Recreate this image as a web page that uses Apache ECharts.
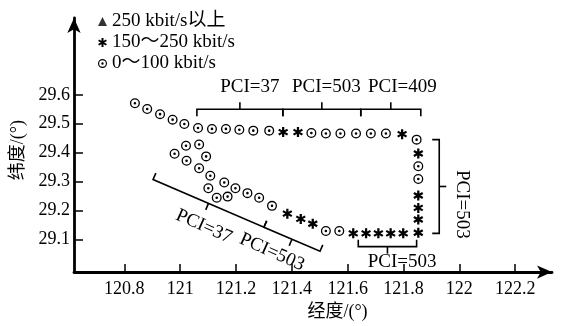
<!DOCTYPE html>
<html>
<head>
<meta charset="utf-8">
<script src="https://cdn.jsdelivr.net/npm/echarts@6/dist/echarts.min.js"></script>
<style>
  html, body { margin: 0; padding: 0; background: #fff; }
  #chart { width: 563px; height: 326px; }
</style>
</head>
<body>
<div id="chart"></div>
<script>
// 刻度
const xTicks = [120.8, 121, 121.2, 121.4, 121.6, 121.8, 122, 122.2];
const yTicks = [29.1, 29.2, 29.3, 29.4, 29.5, 29.6];

// 0~100 kbit/s 采样点 [经度, 纬度]
const circlePoints = [
  [120.838, 29.571], [120.882, 29.551], [120.928, 29.533], [120.973, 29.514],
  [121.015, 29.499], [121.064, 29.485], [121.114, 29.482], [121.164, 29.482],
  [121.212, 29.479], [121.262, 29.476], [121.319, 29.476],
  [121.470, 29.468], [121.522, 29.466], [121.574, 29.466], [121.630, 29.466],
  [121.683, 29.466], [121.737, 29.466], [121.847, 29.445],
  [121.853, 29.353], [121.853, 29.309],
  [121.570, 29.129], [121.522, 29.129],
  [120.980, 29.396], [121.021, 29.424], [121.068, 29.428], [121.023, 29.372],
  [121.093, 29.387], [121.068, 29.346], [121.108, 29.320], [121.158, 29.297],
  [121.101, 29.277], [121.198, 29.277], [121.241, 29.260], [121.131, 29.244],
  [121.170, 29.248], [121.283, 29.244], [121.329, 29.216]
];

// 150~250 kbit/s 采样点
const starPoints = [
  [121.369, 29.471], [121.422, 29.471], [121.795, 29.464],
  [121.853, 29.397], [121.853, 29.252], [121.853, 29.209], [121.853, 29.169], [121.853, 29.123],
  [121.799, 29.121], [121.754, 29.121], [121.710, 29.121], [121.666, 29.121], [121.620, 29.121],
  [121.475, 29.154], [121.432, 29.171], [121.384, 29.189]
];

// 250 kbit/s以上 (图中无点)
const trianglePoints = [];

// 括号 [起点经度, 起点纬度, 终点经度, 终点纬度, 方向]
const brackets = [
  [121.060, 29.55, 121.368, 29.55, 1],
  [121.368, 29.55, 121.647, 29.55, 1],
  [121.647, 29.55, 121.862, 29.55, 1],
  [121.928, 29.445, 121.928, 29.121, 1],
  [121.638, 29.075, 121.847, 29.075, -1],
  [120.903, 29.307, 121.300, 29.142, -1],
  [121.300, 29.142, 121.501, 29.059, -1]
];

// PCI 标注
const pciTexts = ["PCI=37", "PCI=503", "PCI=409", "PCI=503", "PCI=503", "PCI=37", "PCI=503"];
const pciPos = [
  [121.250, 29.628], [121.524, 29.628], [121.796, 29.628],
  [122.008, 29.221], [121.795, 29.022], [121.085, 29.145], [121.329, 29.056]
];
const pciRotate = [0, 0, 0, -90, 0, -24, -24];

const FONT = '"Liberation Serif", "Noto Sans CJK SC", serif';
// 六臂星号
const STAR = "path://M39 0 L61 0 L61 100 L39 100 Z M87.8 15.5 L98.8 34.5 L12.2 84.5 L1.2 65.5 Z M12.2 15.5 L98.8 65.5 L87.8 84.5 L1.2 34.5 Z";
// 带点圆圈
const RING = "path://M0 50 A50 50 0 1 1 100 50 A50 50 0 1 1 0 50 Z M13 50 A37 37 0 1 0 87 50 A37 37 0 1 0 13 50 Z M37 50 A13 13 0 1 1 63 50 A13 13 0 1 1 37 50 Z";

const chart = echarts.init(document.getElementById("chart"));

const options = {
  animation: false,
  backgroundColor: "#fff",
  grid: { left: 74, right: 11, top: 18, bottom: 53.5, containLabel: false },
  legend: {
    orient: "vertical",
    left: 98,
    top: 12,
    padding: 0,
    itemWidth: 9,
    itemHeight: 9,
    itemGap: 2,
    textStyle: { color: "#000", fontSize: 19, fontFamily: FONT, lineHeight: 19 },
    data: [
      { name: "250 kbit/s以上", icon: "triangle" },
      { name: "150～250 kbit/s", icon: STAR },
      { name: "0～100 kbit/s", icon: RING }
    ]
  },
  xAxis: {
    type: "value",
    min: 120.6198,
    max: 122.3319,
    name: "经度/(°)",
    nameLocation: "middle",
    nameGap: 28,
    nameTextStyle: { color: "#000", fontSize: 18, fontFamily: FONT, padding: [0, 0, 0, 49] },
    axisLine: {
      lineStyle: { color: "#000", width: 2.8 },
      symbol: ["none", "arrow"],
      symbolSize: [10, 15]
    },
    axisTick: { inside: true, length: 8, lineStyle: { color: "#000", width: 1.5 }, customValues: xTicks },
    axisLabel: { color: "#000", fontSize: 18, fontFamily: FONT, margin: 8, customValues: xTicks },
    splitLine: { show: false }
  },
  yAxis: {
    type: "value",
    min: 28.987,
    max: 29.8655,
    name: "纬度/(°)",
    nameLocation: "middle",
    nameGap: 47,
    nameTextStyle: { color: "#000", fontSize: 18, fontFamily: FONT, padding: [0, 10, 0, 0] },
    axisLine: {
      lineStyle: { color: "#000", width: 2.8 },
      symbol: ["none", "arrow"],
      symbolSize: [10, 15]
    },
    axisTick: { inside: true, length: 9, lineStyle: { color: "#000", width: 1.5 }, customValues: yTicks },
    axisLabel: { color: "#000", fontSize: 18, fontFamily: FONT, margin: 4, customValues: yTicks },
    splitLine: { show: false }
  },
  series: [
    {
      name: "250 kbit/s以上",
      type: "scatter",
      symbol: "triangle",
      symbolSize: 9,
      itemStyle: { color: "#000" },
      data: trianglePoints
    },
    {
      name: "150～250 kbit/s",
      type: "scatter",
      symbol: STAR,
      symbolSize: 10,
      itemStyle: { color: "#000", opacity: 1 },
      data: starPoints
    },
    {
      name: "0～100 kbit/s",
      type: "scatter",
      symbol: RING,
      symbolSize: 10,
      itemStyle: { color: "#000", opacity: 1 },
      data: circlePoints
    },
    {
      type: "custom",
      silent: true,
      encode: { x: [0, 2], y: [1, 3] },
      renderItem: function (params, api) {
        const p1 = api.coord([api.value(0), api.value(1)]);
        const p2 = api.coord([api.value(2), api.value(3)]);
        const s = api.value(4);
        const dx = p2[0] - p1[0], dy = p2[1] - p1[1];
        const len = Math.hypot(dx, dy);
        const nx = (-dy / len) * s, ny = (dx / len) * s;
        const L = 7;
        const mx = (p1[0] + p2[0]) / 2, my = (p1[1] + p2[1]) / 2;
        return {
          type: "group",
          children: [
            {
              type: "polyline",
              shape: { points: [[p1[0] + nx * L, p1[1] + ny * L], p1, p2, [p2[0] + nx * L, p2[1] + ny * L]] },
              style: { stroke: "#000", lineWidth: 1.6, fill: null }
            },
            {
              type: "line",
              shape: { x1: mx, y1: my, x2: mx - nx * L, y2: my - ny * L },
              style: { stroke: "#000", lineWidth: 1.6 }
            }
          ]
        };
      },
      data: brackets
    },
    {
      type: "custom",
      silent: true,
      renderItem: function (params, api) {
        const p = api.coord([api.value(0), api.value(1)]);
        const i = params.dataIndex;
        return {
          type: "text",
          x: p[0],
          y: p[1],
          rotation: (pciRotate[i] * Math.PI) / 180,
          style: {
            text: pciTexts[i],
            fill: "#000",
            font: "19px " + FONT,
            align: "center",
            verticalAlign: "middle"
          }
        };
      },
      data: pciPos
    }
  ]
};

chart.setOption(options);
</script>
</body>
</html>
